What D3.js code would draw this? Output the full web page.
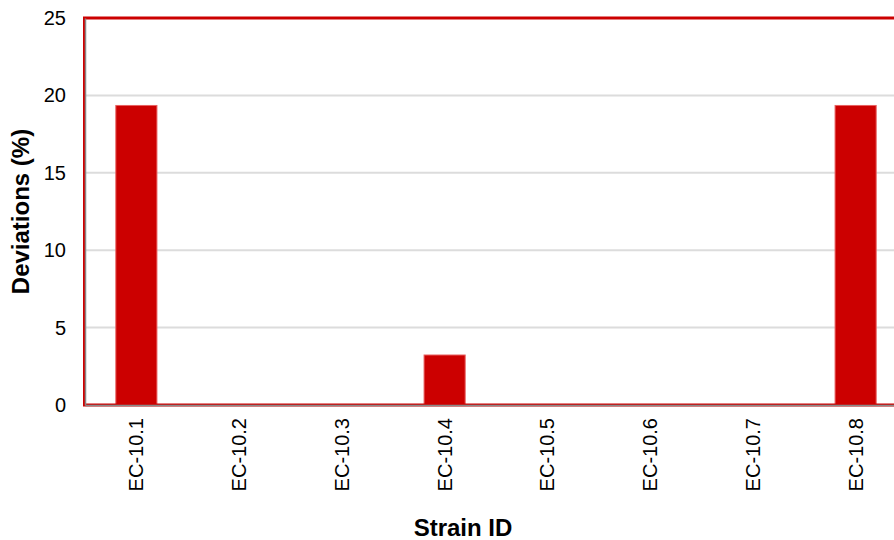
<!DOCTYPE html>
<html><head><meta charset="utf-8">
<script src="https://cdn.jsdelivr.net/npm/d3@7"></script>
<style>body{margin:0;background:#fff;overflow:hidden}svg{display:block}text{font-family:"Liberation Sans",Arial,sans-serif}</style>
</head><body>
<script>
const categories = ["EC-10.1","EC-10.2","EC-10.3","EC-10.4","EC-10.5","EC-10.6","EC-10.7","EC-10.8"];
const values = [19.35, 0, 0, 3.23, 0, 0, 0, 19.35];
const yTicks = [0, 5, 10, 15, 20, 25];

const W = 894, H = 540;
const m = {left: 85, top: 18, right: -13, bottom: 135};
const svg = d3.select("body").append("svg").attr("width", W).attr("height", H);
const x = d3.scaleBand().domain(categories).range([m.left, W - m.right]).paddingInner(0.6).paddingOuter(0.3);
const y = d3.scaleLinear().domain([0, 25]).range([H - m.bottom, m.top]);

// gridlines
svg.append("g").selectAll("line").data(yTicks.filter(d => d > 0)).join("line")
  .attr("x1", m.left).attr("x2", W - m.right)
  .attr("y1", d => y(d)).attr("y2", d => y(d))
  .attr("stroke", "#dcdcdc").attr("stroke-width", 2);

// bars
svg.append("g").selectAll("rect").data(values).join("rect")
  .attr("x", (d, i) => x(categories[i]))
  .attr("width", x.bandwidth())
  .attr("y", d => y(d))
  .attr("height", d => y(0) - y(d))
  .attr("fill", "#cc0000")
  .attr("stroke", "#e86060").attr("stroke-width", 1);

// red frame
svg.append("rect").attr("x", m.left - 0.5).attr("y", m.top).attr("width", W - m.right - m.left).attr("height", y(0) - m.top)
  .attr("fill", "none").attr("stroke", "#cc0000").attr("stroke-width", 3);

// y axis
const ya = svg.append("g").attr("transform", `translate(${m.left},0)`)
  .call(d3.axisLeft(y).tickValues(yTicks).tickSize(0).tickPadding(19));
ya.select(".domain").attr("stroke", "#888").attr("stroke-width", 1.5);
ya.selectAll("text").attr("font-size", 20).attr("fill", "#000").attr("font-family", "Liberation Sans, Arial, sans-serif");

// x axis
const xa = svg.append("g").attr("transform", `translate(0,${y(0)})`)
  .call(d3.axisBottom(x).tickSize(0));
xa.select(".domain").attr("stroke", "#888").attr("stroke-width", 1.5);
xa.selectAll("text").attr("font-size", 20).attr("fill", "#000").attr("font-family", "Liberation Sans, Arial, sans-serif")
  .attr("transform", "rotate(-90)").attr("text-anchor", "end")
  .attr("x", -13).attr("y", 0).attr("dy", "0.35em");

svg.append("text").attr("x", 463).attr("y", 536).attr("text-anchor", "middle")
  .attr("font-size", 24).attr("font-weight", "bold").text("Strain ID");
svg.append("text").attr("transform", `translate(29,${(m.top + y(0)) / 2}) rotate(-90)`).attr("text-anchor", "middle")
  .attr("font-size", 24).attr("font-weight", "bold").text("Deviations (%)");
</script>
</body></html>
